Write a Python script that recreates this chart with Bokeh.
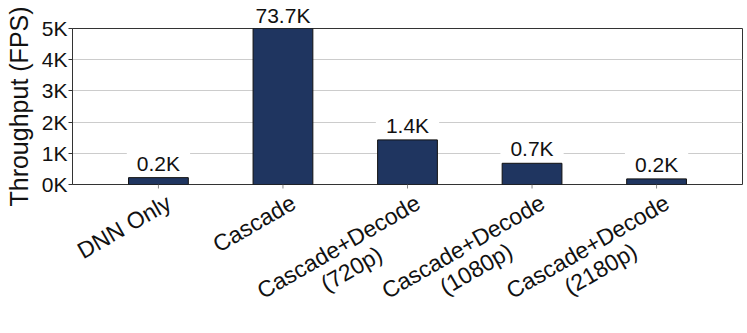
import math
from bokeh.plotting import figure
from bokeh.layouts import column
from bokeh.models import (ColumnDataSource, LabelSet, FixedTicker, Range1d,
                          LinearAxis)
from bokeh.core.properties import value
from bokeh.embed import file_html
from bokeh.resources import INLINE

categories = ["DNN Only", "Cascade", "Cascade+Decode\n(720p)",
              "Cascade+Decode\n(1080p)", "Cascade+Decode\n(2180p)"]
throughput = [220, 73700, 1430, 680, 180]
value_labels = ["0.2K", "73.7K", "1.4K", "0.7K", "0.2K"]
y_ticks = [0, 1000, 2000, 3000, 4000, 5000]
y_tick_labels = ["0K", "1K", "2K", "3K", "4K", "5K"]

YMAX = 5000
FONT = "Liberation Sans"
XFS = 23          # x category label font size (px)
W = 745
FRAME_BOTTOM = 184
OVERLAP = 28
BOT_H = 140

# approximate Arial/Liberation Sans advance widths (em)
CW = {"C": .722, "D": .722, "N": .722, "O": .778, "a": .556, "s": .5,
      "c": .5, "d": .556, "e": .556, "o": .556, "+": .584, "n": .556,
      "l": .222, "y": .5, " ": .278, "(": .333, ")": .333, "p": .556}


def text_w(s, fs):
    return sum(CW.get(ch, .556) for ch in s) * fs


xs = list(range(len(categories)))
inside = [v <= YMAX for v in throughput]
src = ColumnDataSource(dict(
    x=[x for x, ok in zip(xs, inside) if ok],
    ly=[v for v, ok in zip(throughput, inside) if ok],
    lab=[f"\u2009 {t} \u2009" for t, ok in zip(value_labels, inside) if ok],
))
bars = ColumnDataSource(dict(x=xs, top=throughput))

xr = Range1d(-0.69, len(categories) - 1 + 0.69)

# ---------------- main chart ----------------
p = figure(width=W, height=FRAME_BOTTOM + OVERLAP, output_backend="svg",
           toolbar_location=None, x_range=xr, y_range=Range1d(0, YMAX),
           x_axis_location=None,
           min_border_left=72, min_border_top=27, min_border_right=3,
           min_border_bottom=OVERLAP)

p.vbar(x="x", top="top", width=0.48, source=bars,
       fill_color="#1f3560", line_color="#111111", line_width=1)

p.add_layout(LabelSet(x="x", y="ly", text="lab", source=src,
                      text_align="center", text_baseline="bottom",
                      y_offset=3, text_font=value(FONT), text_font_size="21px",
                      text_color="#111111", background_fill_color="white"))

p.xgrid.visible = False
p.ygrid.grid_line_color = "#cccccc"
p.ygrid.grid_line_width = 1
p.ygrid.ticker = FixedTicker(ticks=y_ticks)

# value labels of bars that run past the top of the axis
over = [x for x, ok in zip(xs, inside) if not ok]
top_axis = LinearAxis(ticker=FixedTicker(ticks=over),
                      major_label_overrides={x: value_labels[x] for x in over},
                      axis_line_color=None, major_tick_line_color=None,
                      minor_tick_line_color=None,
                      major_tick_out=0, major_tick_in=0,
                      minor_tick_out=0, minor_tick_in=0,
                      major_label_text_font=FONT,
                      major_label_text_font_size="21px",
                      major_label_text_color="#111111",
                      major_label_standoff=2)
p.add_layout(top_axis, "above")

p.outline_line_color = "#333333"
p.outline_line_width = 1

p.yaxis.ticker = FixedTicker(ticks=y_ticks)
p.yaxis.major_label_overrides = {t: l for t, l in zip(y_ticks, y_tick_labels)}
p.yaxis.axis_label = "Throughput (FPS)"
p.yaxis.axis_label_text_font = FONT
p.yaxis.axis_label_text_font_size = "25px"
p.yaxis.axis_label_text_font_style = "normal"
p.yaxis.axis_label_text_color = "#111111"
p.yaxis.major_label_text_font = FONT
p.yaxis.major_label_text_font_size = "21px"
p.yaxis.major_label_text_color = "#111111"
p.yaxis.minor_tick_line_color = None
p.yaxis.major_tick_out = 4
p.yaxis.major_tick_in = 0
p.yaxis.axis_line_color = "#333333"
p.yaxis.major_tick_line_color = "#333333"
p.yaxis.major_label_standoff = 1
p.yaxis.axis_label_standoff = 6

# ---------------- category labels strip (overlaps p's empty bottom) -------
p2 = figure(width=W, height=BOT_H, output_backend="svg", toolbar_location=None,
            x_range=xr, y_range=Range1d(-BOT_H, 0),
            x_axis_type=None, y_axis_type=None,
            min_border_left=72, min_border_top=0, min_border_right=3,
            min_border_bottom=0, outline_line_color=None,
            border_fill_color=None, background_fill_color=None)
p2.margin = (-OVERLAP, 0, 0, 0)

# tick marks under each category
p2.segment(x0=xs, y0=[0] * len(xs), x1=xs, y1=[-4] * len(xs),
           line_color="#888888", line_width=1)

ang = math.radians(30)
d = (math.cos(ang), -math.sin(ang))   # text direction (screen, y down)
n = (math.sin(ang), math.cos(ang))    # downward normal (screen, y down)
ax, ay = 4, 5                         # top-right corner offset from tick
LH = 1.12 * XFS
l1 = dict(x=[], t=[], xo=[], y=[])
l2 = dict(x=[], t=[], xo=[], y=[])
for i, cat in zip(xs, categories):
    lines = cat.split("\n")
    w1 = text_w(lines[0], XFS)
    l1["x"].append(i); l1["t"].append(lines[0])
    l1["xo"].append(ax); l1["y"].append(-ay)
    for k, ln in enumerate(lines[1:], start=1):
        cx = ax - (w1 / 2) * d[0] + k * LH * n[0]
        cy = ay - (w1 / 2) * d[1] + k * LH * n[1]
        l2["x"].append(i); l2["t"].append(ln)
        l2["xo"].append(cx); l2["y"].append(-cy)

p2.text(x="x", y="y", text="t", x_offset="xo", source=ColumnDataSource(l1),
        angle=ang, text_align="right", text_baseline="top",
        text_font=value(FONT), text_font_size=f"{XFS}px", text_color="#111111")
p2.text(x="x", y="y", text="t", x_offset="xo", source=ColumnDataSource(l2),
        angle=ang, text_align="center", text_baseline="top",
        text_font=value(FONT), text_font_size=f"{XFS}px", text_color="#111111")

layout = column(p, p2, spacing=0)
open("out.html", "w").write(file_html(layout, INLINE))
